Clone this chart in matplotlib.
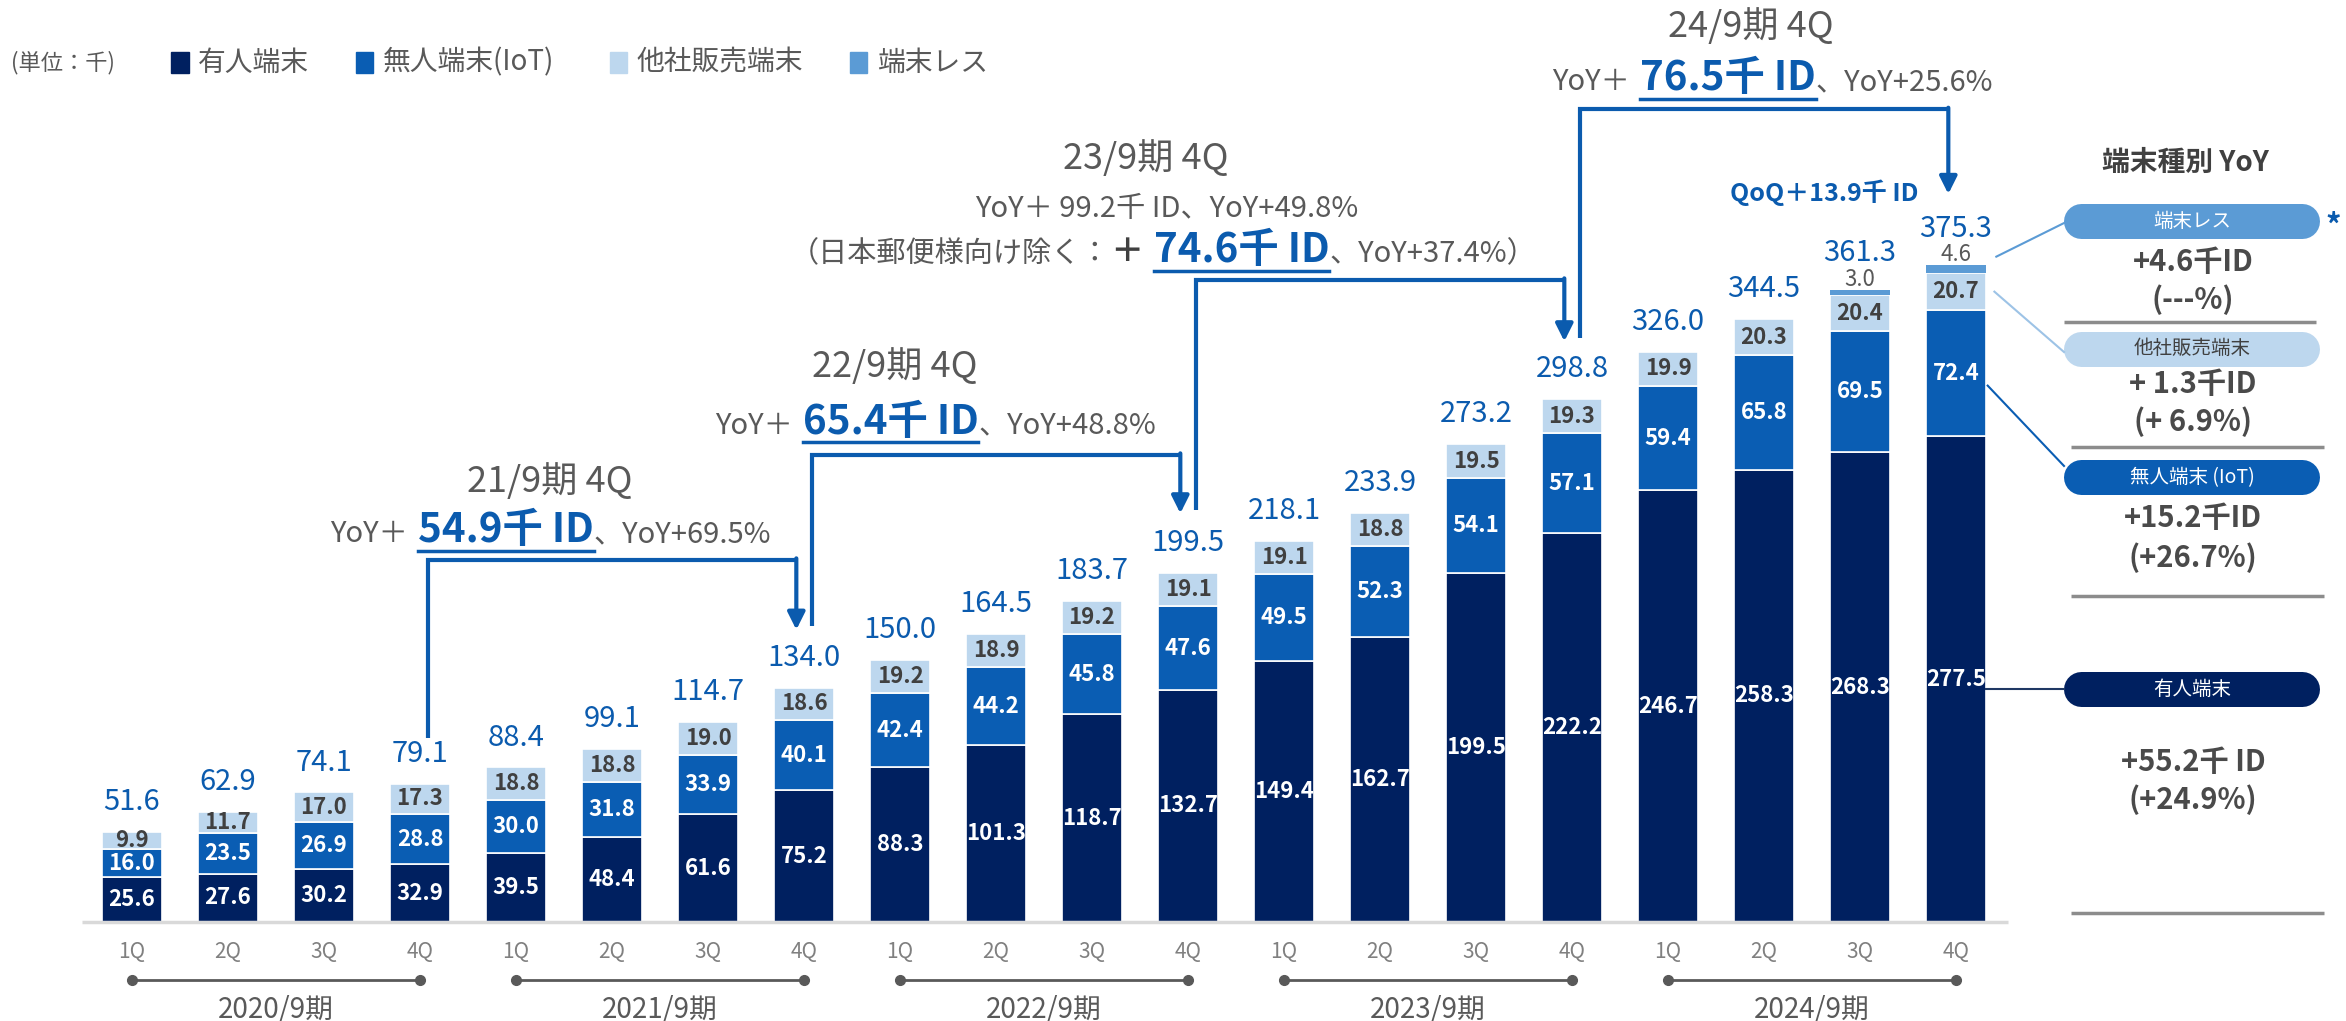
import matplotlib
matplotlib.use('Agg')
import matplotlib.pyplot as plt
from matplotlib.patches import Rectangle

plt.rcParams['font.family'] = ['Noto Sans CJK JP', 'DejaVu Sans']

# data (unit: thousand IDs)
quarters = ['1Q', '2Q', '3Q', '4Q'] * 5
years = ['2020/9期', '2021/9期', '2022/9期', '2023/9期', '2024/9期']
manned = [25.6, 27.6, 30.2, 32.9, 39.5, 48.4, 61.6, 75.2, 88.3, 101.3,
          118.7, 132.7, 149.4, 162.7, 199.5, 222.2, 246.7, 258.3, 268.3, 277.5]
unmanned = [16.0, 23.5, 26.9, 28.8, 30.0, 31.8, 33.9, 40.1, 42.4, 44.2,
            45.8, 47.6, 49.5, 52.3, 54.1, 57.1, 59.4, 65.8, 69.5, 72.4]
other = [9.9, 11.7, 17.0, 17.3, 18.8, 18.8, 19.0, 18.6, 19.2, 18.9,
         19.2, 19.1, 19.1, 18.8, 19.5, 19.3, 19.9, 20.3, 20.4, 20.7]
lessterm = [0] * 18 + [3.0, 4.6]
totals = [51.6, 62.9, 74.1, 79.1, 88.4, 99.1, 114.7, 134.0, 150.0, 164.5,
          183.7, 199.5, 218.1, 233.9, 273.2, 298.8, 326.0, 344.5, 361.3, 375.3]

legend_names = ['有人端末', '無人端末(IoT)', '他社販売端末', '端末レス']
yoy_names = ['端末レス', '他社販売端末', '無人端末 (IoT)', '有人端末']
yoy_values = ['+4.6千ID', '+ 1.3千ID', '+15.2千ID', '+55.2千 ID']
yoy_pcts = ['(---%)', '(+ 6.9%)', '(+26.7%)', '(+24.9%)']

NAVY = '#002060'
BLUE = '#0A5DB3'
PALE = '#BDD7EE'
SKY = '#5B9BD5'
TBLUE = '#0B5BAE'
GRAY = '#595959'
DARK = '#404040'

fig = plt.figure(figsize=(23.46, 10.21), dpi=100)
ax = fig.add_axes([0, 0, 1, 1])
ax.set_xlim(-132 / 96, (2346 - 132) / 96)
ax.set_ylim(-99 / 1.75, 922 / 1.75)
ax.axis('off')
renderer = fig.canvas.get_renderer()

x = list(range(len(manned)))
b2 = [a + b for a, b in zip(manned, unmanned)]
b3 = [a + b for a, b in zip(b2, other)]
W = 0.615
ax.bar(x, manned, W, color=NAVY, edgecolor='white', linewidth=1.2)
ax.bar(x, unmanned, W, bottom=manned, color=BLUE, edgecolor='white', linewidth=1.2)
ax.bar(x, other, W, bottom=b2, color=PALE, edgecolor='white', linewidth=1.2)
ax.bar(x, lessterm, W, bottom=b3, color=SKY, edgecolor='none')

for i in x:
    ax.text(i, manned[i] / 2, f'{manned[i]:.1f}', ha='center', va='center',
            color='white', fontsize=16, fontweight='bold')
    ax.text(i, manned[i] + unmanned[i] / 2, f'{unmanned[i]:.1f}', ha='center', va='center',
            color='white', fontsize=16, fontweight='bold')
    ax.text(i, b2[i] + other[i] / 2, f'{other[i]:.1f}', ha='center', va='center',
            color=DARK, fontsize=16, fontweight='bold')
    if lessterm[i] > 0:
        ly = b3[i] + lessterm[i] + 6
        ax.text(i, ly, f'{lessterm[i]:.1f}', ha='center', va='center', color=GRAY, fontsize=16)
        ty = ly + 15
    else:
        ty = totals[i] + 17
    ax.text(i, ty, f'{totals[i]:.1f}', ha='center', va='center', color=TBLUE, fontsize=21)

# x axis
ax.plot([-0.52, 19.54], [0, 0], color='#D9D9D9', lw=2.5, solid_capstyle='butt')
for i in x:
    ax.text(i, -16.9, quarters[i], ha='center', va='center', color='#808080', fontsize=15)
for k, yr in enumerate(years):
    ax.plot([4 * k, 4 * k + 3], [-33.1, -33.1], color=GRAY, lw=2, marker='o', ms=7)
    ax.text(4 * k + 1.5, -50.3, yr, ha='center', va='center', color=GRAY, fontsize=20)

# legend
ax.text(-0.72, 491, '(単位：千)', ha='center', va='center', color=GRAY, fontsize=16)
for name, col, sx in zip(legend_names, [NAVY, BLUE, PALE, SKY], [0.41, 2.33, 4.98, 7.48]):
    ax.add_patch(Rectangle((sx, 485), 0.18, 12, color=col))
    ax.text(sx + 0.28, 491, name, va='center', color=GRAY, fontsize=20)


def rich_line(xc, yb, parts):
    arts = []
    for s, kw, ul, gap in parts:
        arts.append((ax.text(0, yb, s, ha='left', va='baseline', **kw), ul, gap))
    widths = [t.get_window_extent(renderer).width / 96 + gap / 96 for t, ul, gap in arts]
    x0 = xc - sum(widths) / 2
    for (t, ul, gap), w in zip(arts, widths):
        t.set_x(x0)
        if ul:
            ax.plot([x0, x0 + w - gap / 96], [yb - 5, yb - 5], color=TBLUE, lw=2.5)
        x0 += w


g = dict(fontsize=21, color=GRAY)
hb = dict(fontsize=29, color=TBLUE, fontweight='bold')

ax.text(4.35, 251.6, '21/9期 4Q', ha='center', va='center', color=GRAY, fontsize=26)
rich_line(4.36, 217, [('YoY＋', g, False, 10), ('54.9千 ID', hb, True, 0), ('、YoY+69.5%', g, False, 0)])

ax.text(7.95, 317.4, '22/9期 4Q', ha='center', va='center', color=GRAY, fontsize=26)
rich_line(8.37, 279, [('YoY＋', g, False, 10), ('65.4千 ID', hb, True, 0), ('、YoY+48.8%', g, False, 0)])

ax.text(10.56, 436.3, '23/9期 4Q', ha='center', va='center', color=GRAY, fontsize=26)
ax.text(10.78, 403, 'YoY＋ 99.2千 ID、YoY+49.8%', ha='center', va='baseline', **g)
rich_line(10.74, 377, [('（日本郵便様向け除く：', g, False, 0),
                       ('＋', dict(fontsize=24, color=DARK, fontweight='bold'), False, 10),
                       ('74.6千 ID', hb, True, 0), ('、YoY+37.4%）', g, False, 0)])

ax.text(16.86, 511.5, '24/9期 4Q', ha='center', va='center', color=GRAY, fontsize=26)
rich_line(17.09, 475.5, [('YoY＋', g, False, 10), ('76.5千 ID', hb, True, 0), ('、YoY+25.6%', g, False, 0)])

ax.text(17.63, 416.6, 'QoQ＋13.9千 ID', ha='center', va='center', color=TBLUE,
        fontsize=18, fontweight='bold')

# brackets between 4Q bars
brackets = [(3, 7, 207), (7, 11, 267), (11, 15, 367), (15, 19, 464.5)]
tips = [totals[7] + 33, totals[11] + 34, totals[15] + 33, 416]
start = totals[3] + 26
for (a, b, yh), tip in zip(brackets, tips):
    xl, xr = a + 0.08, b - 0.08
    ax.plot([xl, xl, xr], [start, yh, yh], color=TBLUE, lw=3,
            solid_joinstyle='miter', solid_capstyle='butt')
    ax.annotate('', xy=(xr, tip), xytext=(xr, yh + 0.8),
                arrowprops=dict(arrowstyle='-|>', lw=3, color=TBLUE, mutation_scale=26,
                                shrinkA=0, shrinkB=0))
    start = tip + 2

# right panel: YoY by terminal type
ax.text(21.39, 433.7, '端末種別 YoY', ha='center', va='center', color=DARK,
        fontsize=20, fontweight='bold')
pill_y = [400.3, 327.7, 254, 132.9]
val_y = [377.1, 307.4, 230.9, 91.4]
pct_y = [355.4, 285.7, 208, 69.7]
pill_cols = [SKY, PALE, BLUE, NAVY]
pill_txt = ['white', DARK, 'white', 'white']
for name, v, p, py, vy, qy, pc, tc in zip(yoy_names, yoy_values, yoy_pcts, pill_y,
                                          val_y, pct_y, pill_cols, pill_txt):
    ax.plot([20.125 + 0.182, 22.79 - 0.182], [py, py], color=pc, lw=25.2,
            solid_capstyle='round')
    ax.text(21.46, py, name, ha='center', va='center', color=tc, fontsize=14)
    ax.text(21.47, vy, v, ha='center', va='center', color='#4A4A4A', fontsize=21, fontweight='bold')
    ax.text(21.47, qy, p, ha='center', va='center', color='#4A4A4A', fontsize=21, fontweight='bold')
ax.text(22.93, 397, '*', ha='center', va='center', color=TBLUE, fontsize=22, fontweight='bold')

for sy, sx0 in zip([342.9, 271.4, 186.3, 5.1], [20.125, 20.2, 20.2, 20.2]):
    ax.plot([sx0, sx0 + 2.63], [sy, sy], color='#8C8C8C', lw=2.5, solid_capstyle='butt')

# connectors from the last bar to the pills
ax.plot([19.42, 20.125], [380.2, 399.4], color=SKY, lw=1.5)
ax.plot([19.40, 20.125], [360.2, 325.7], color='#9DC3E6', lw=1.5)
ax.plot([19.33, 20.125], [306.5, 260.6], color=BLUE, lw=1.5)
ax.plot([19.31, 20.125], [pill_y[3], pill_y[3]], color='#1F3864', lw=1.5)

fig.savefig('out.png', dpi=100)
